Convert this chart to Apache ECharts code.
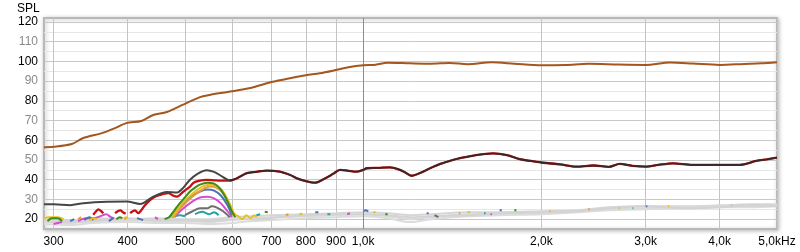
<!DOCTYPE html>
<html><head><meta charset="utf-8">
<script src="https://cdn.jsdelivr.net/npm/echarts@6/dist/echarts.min.js"></script>
<style>html,body{margin:0;padding:0;background:#fff}#c{width:800px;height:252px}</style>
</head><body><div id="c"></div>
<script>
const xTicks = [300,400,500,600,700,800,900,1000,2000,3000,4000,5000];
const yTicks = [20,30,40,50,60,70,80,90,100,110,120];
const yMinorTicks = [25,35,45,55,65,75,85,95,105,115];

const mainF = [289,300,322,336,362,380,398,422,442,466,494,530,550,590,645,700,752,800,845,895,950,1000,1050,1100,1200,1300,1400,1500,1650,1800,2000,2200,2400,2700,3000,3300,3600,4000,4400,4700,5000];
const mainV = [56.5,56.7,58.1,61,63.6,66,68.7,69.8,72.8,74.3,77.8,81.9,83,84.5,86.5,89.5,91.5,93,94,95.5,97.2,98,98.3,99.3,99,98.8,99.2,98.6,99.5,98.8,98,98.2,98.8,98.4,98.2,99.4,98.9,98.2,98.7,99,99.6];

const darkLowF = [289,300,320,337,369,399,420,442,466,485,497,510,525,544,560,575,590,600];
const darkLowV = [27.5,27.6,27.1,28.1,28.8,28.9,27.7,31.4,33.7,33.5,36,40,43,44.8,44,42,40,39.6];

const darkHighF = [595,610,636,660,687,723,753,773,800,829,860,890,914,945,975,1000,1014,1060,1110,1154,1180,1207,1250,1297,1350,1418,1458,1550,1657,1750,1838,1920,2012,2150,2291,2450,2600,2712,2850,3008,3150,3338,3600,4000,4325,4614,4800,5000];
const darkHighV = [39.5,40.5,43.3,44,44.6,44.1,42.4,40.7,39.3,38.5,40.5,43,45,44.5,44.1,45,45.8,46,46.3,45,43.5,42,43.5,45.8,48,50,50.9,52.5,53.4,52.5,50.4,49.5,48.6,47.8,46.6,47.2,46.5,48,47,46.6,47.5,48.3,47.5,47.5,47.5,49.5,50.3,51.2];

const redLowF = [350,354,357,361,364,376,381,385,389,393,397,401,404,408,412,415,417,420,428,437,446,454,462,469,477,485,497,510,517,530,544,560,573,590];
const redLowV = [22.2,24,25,24,23,null,23,24,24.4,23.5,22.7,null,23,24,24.4,23.5,23,23.8,27,29.8,31.5,32.3,33,33.2,32,31.4,34,36.5,38.5,39.5,39.9,39.7,39.5,39.5];

const greenF = [293,298,305,310,315,383,388,392,396,462,470,480,490,500,510,520,530,545,560,575,590,600,608,620,682,690,700,1090,1100,1110,1800,1815,1830,4000,4010];
const greenV = [19,20.5,20.5,19,null,20,21,20.5,null,20,21,24.5,28,31,34,36,37.5,38.5,38,35,29,24,21,null,23.8,23.5,null,22.5,22.5,null,24.5,24.5,null,26.5,26.5];

const yellowF = [289,295,305,312,318,345,350,355,360,395,400,405,475,495,515,535,550,565,580,595,605,615,625,635,645,655,660,670,780,790,800,1040,1050,1060,1500,1515,1530,2060,2075,2090,2700,2715,2730,3270,3290,3300,4180,4200];
const yellowV = [20.5,21,21,20,null,19.5,20.5,20,null,21,20.5,null,21,28,33,36.5,37.5,37,34,28,23,21.5,20,22,20.5,22,21,null,22.5,22.8,null,23.5,23.5,null,23.5,23.5,null,24,24,null,25.5,25.5,null,26.5,26.5,null,27,27];

const orangeF = [330,334,338,395,400,405,478,495,515,535,550,565,580,595,603,610,740,748,755,1450,1460,1470,2400,2415];
const orangeV = [20,21,null,20,21,null,21,26.5,31.5,35,36.5,36,33,27,22,null,22,22.5,null,23,23,null,25,25];

const blueF = [320,325,330,338,345,350,355,372,378,382,415,425,430,472,490,510,530,545,560,575,590,600,605,830,840,850,1000,1010,1020,1025,1280,1290,1300,1700,1715,1730,3000,3020];
const blueV = [19,20,null,19.5,21,19.5,null,19,20.5,null,20.5,19.5,null,21,26,31,34,35,34.5,32,27,22,null,23.5,23.5,null,24,24.5,24,null,23,23,null,24.5,24.5,null,26.5,26.5];

const magentaF = [300,310,318,330,340,350,360,368,375,380,385,445,450,455,480,495,515,530,545,560,575,590,600,605,940,950,960,1640,1650];
const magentaV = [17.5,18.5,null,19,20.5,20.5,21.5,22.5,21,20.5,null,21,20,null,21,25,29,31,31.3,30.5,28,24,21,null,22.5,23,null,22.5,22.5];

const grayCurveF = [500,515,530,545,555,565,580,595,600,1320,1330,1340];
const grayCurveV = [22,24,25.5,25.5,26.5,26,24,21,null,22,21.5,21];

const tealF = [475,490,500,505,520,535,550,560,570,575,660,670,680,870,880,890,1600,1610,1620,2850,2860];
const tealV = [21,22,21.5,null,22.5,23.7,22.5,23.5,22,null,22,22.5,null,22.5,22.5,null,23,23,null,25.5,25.5];

const lightF = [289,320,350,400,450,500,550,600,650,700,800,900,1000,1100,1200,1300,1500,1700,2000,2300,2600,3000,3500,4000,4500,5000];
const lightA = [20,19.5,20.5,20,20.5,20,20,21,21.5,22,22.5,23,23.5,23,22,22.5,23.5,23.5,24,24.5,26,26.5,26.5,27,27.5,27.5];
const lightB = [18.5,18,19,19.5,19,19,18.5,19.5,20.5,21,21.5,22,22.5,21.5,20,21,22.5,22.5,23,24,25,25.5,26,26.5,26.5,27];
const lightC = [17.5,17,18,18.5,18,18,17.5,18,19,19.5,20.5,21,21.5,20.5,18.5,20,21.5,22,22.5,23.5,24.5,25,25.5,26,26,26.5];
const lightD = [19,18.5,19,20.5,19.5,19.5,19,20,20,20.5,22,22.5,22.5,22,21,21.5,22,23,23.5,24,25.5,26.5,25.5,26,27,26.5];

function pairs(f, v) { return f.map((x, i) => [x, v[i] === null ? '-' : v[i]]); }

function line(name, f, v, color, width, z, smooth) {
  return { name, type: 'line', data: pairs(f, v), showSymbol: false, symbol: 'none',
    smooth: smooth === undefined ? 0.3 : smooth, z: z, silent: true,
    lineStyle: { color, width }, animation: false };
}

const series = [
  Object.assign(line('lA', lightF, lightA, '#d6d6d6', 2, 2), {
    markLine: { silent: true, symbol: ['none', 'none'], label: { show: false },
      lineStyle: { color: '#8c8c8c', width: 1, type: 'solid' }, data: [{ xAxis: 1000 }] }
  }),
  line('lB', lightF, lightB, '#d9d9d9', 2, 2),
  line('lC', lightF, lightC, '#dcdcdc', 2, 2),
  line('lD', lightF, lightD, '#d3d3d3', 2, 2),
  line('teal', tealF, tealV, '#23a3a3', 2, 3),
  line('grayc', grayCurveF, grayCurveV, '#6e6e6e', 2, 3),
  line('magenta', magentaF, magentaV, '#d24fd2', 2, 3),
  line('blue', blueF, blueV, '#4a72b4', 2, 3),
  line('orange2', orangeF, orangeV, '#e89a3c', 2, 3),
  line('yellow', yellowF, yellowV, '#e6c21a', 2, 3),
  line('green', greenF, greenV, '#3d8c1c', 2, 3),
  line('red', redLowF.concat(darkHighF), redLowV.concat(darkHighV), '#c41010', 2.3, 4),
  line('darkLow', darkLowF, darkLowV, '#454545', 2, 5),
  line('darkHigh', darkHighF, darkHighV, '#3a2626', 1.8, 5),
  line('main', mainF, mainV, '#a4561f', 2, 6)
];

function xFmt(v) {
  if (v >= 1000) return (v / 1000).toFixed(1).replace('.', ',') + 'k' + (v === 5000 ? 'Hz' : '');
  return String(v);
}

const chart = echarts.init(document.getElementById('c'));
chart.setOption({
  animation: false,
  backgroundColor: '#fff',
  textStyle: { fontFamily: 'Liberation Sans, Arial, sans-serif' },
  graphic: [{ type: 'text', left: 17, top: 3, style: { text: 'SPL', fontSize: 12, fill: '#000', fontFamily: 'Liberation Sans, Arial, sans-serif' } }],
  grid: { left: 44, right: 23, top: 18, bottom: 23, show: true, backgroundColor: '#fff',
    borderColor: '#b8b8b8', borderWidth: 2,
    shadowColor: 'rgba(0,0,0,0.25)', shadowBlur: 4, shadowOffsetX: 1, shadowOffsetY: 1 },
  xAxis: {
    type: 'log', logBase: 10, min: 289, max: 5000,
    axisLine: { show: false },
    axisTick: { show: false, customValues: xTicks },
    axisLabel: { customValues: xTicks, formatter: xFmt, color: '#000', fontSize: 12, margin: 7 },
    splitLine: { show: true, lineStyle: { color: '#c4c4c4', width: 1 } },
    minorSplitLine: { show: false }
  },
  yAxis: [{
    type: 'value', min: 15, max: 122,
    axisLine: { show: false },
    axisTick: { show: false, customValues: yTicks },
    axisLabel: { customValues: yTicks, fontSize: 12, margin: 6,
      formatter: v => (v % 20 === 0 ? '{a|' + v + '}' : '{b|' + v + '}'),
      rich: { a: { color: '#000', fontSize: 12 }, b: { color: '#8a8a8a', fontSize: 12 } } },
    splitLine: { show: true, lineStyle: { color: '#c8c8c8', width: 1 } }
  }, {
    type: 'value', min: 15, max: 122, position: 'left',
    axisLine: { show: false },
    axisTick: { show: false, customValues: yMinorTicks },
    axisLabel: { show: false, customValues: yMinorTicks },
    splitLine: { show: true, lineStyle: { color: '#e6e6e6', width: 1 } }
  }],
  series: series
});
</script>
</body></html>
